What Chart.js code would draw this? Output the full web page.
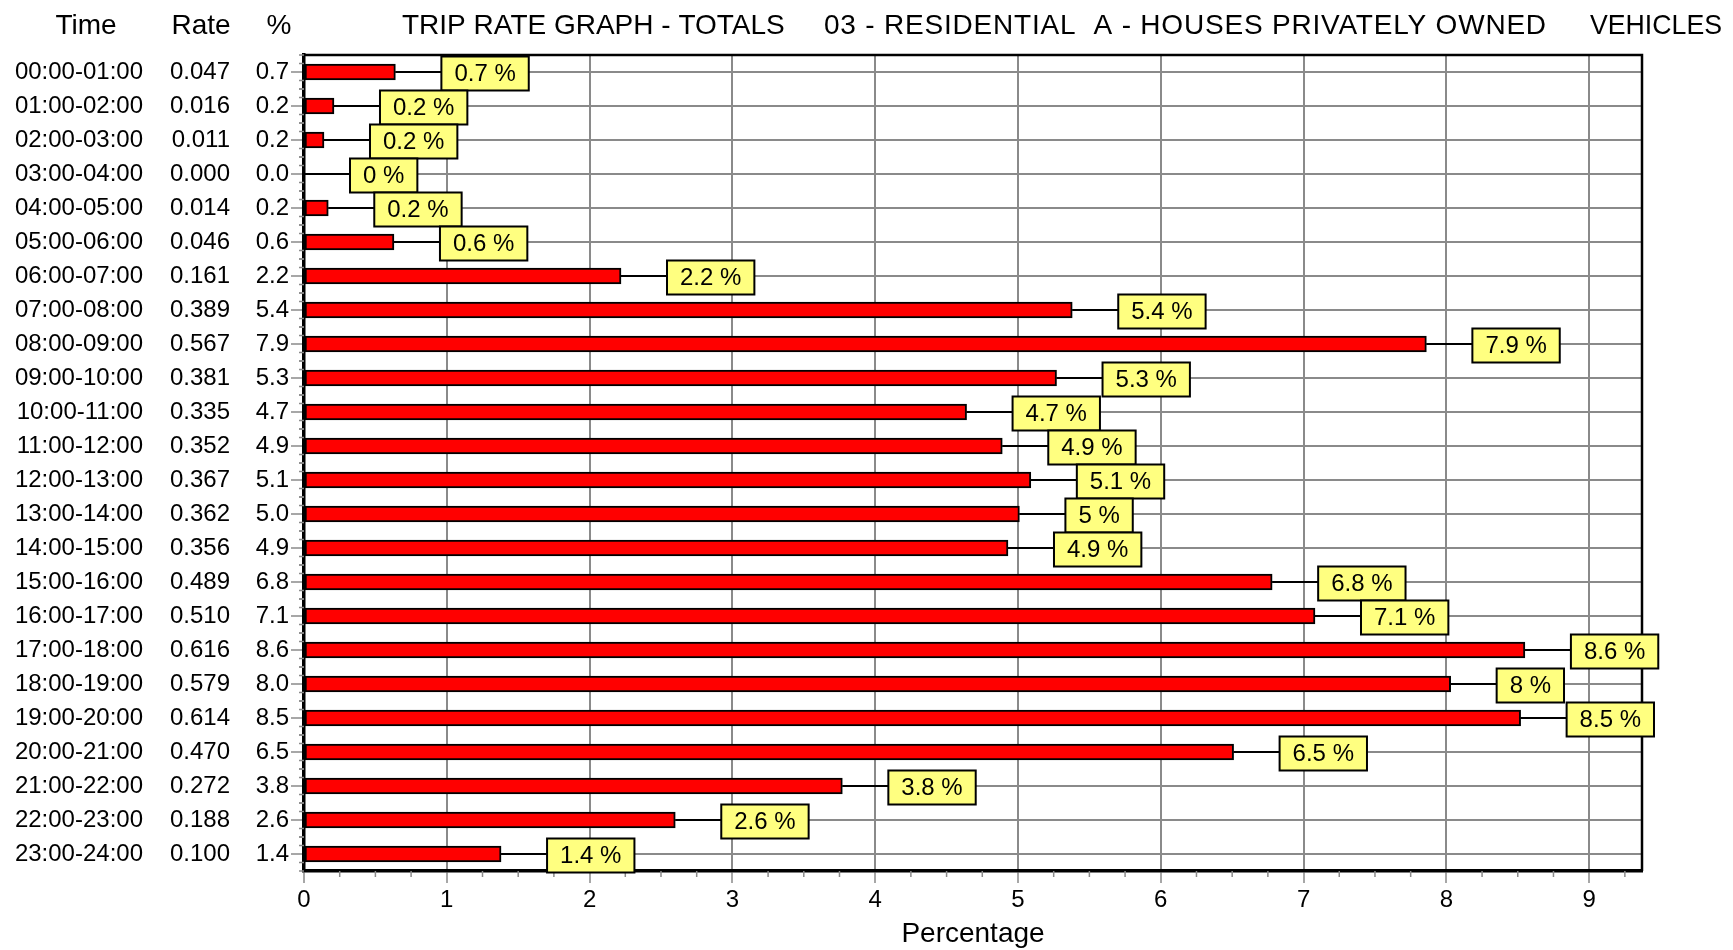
<!DOCTYPE html>
<html>
<head>
<meta charset="utf-8">
<title>Trip rate graph</title>
<script src="https://cdn.jsdelivr.net/npm/chart.js@4.4.1/dist/chart.umd.min.js"></script>
<style>
  html, body { margin: 0; padding: 0; background: #fff; }
  #wrap { position: relative; width: 1733px; height: 950px; }
</style>
</head>
<body>
<div id="wrap"><canvas id="tripChart"></canvas></div>
<script>
// hourly periods
var times = ['00:00-01:00', '01:00-02:00', '02:00-03:00', '03:00-04:00', '04:00-05:00', '05:00-06:00',
    '06:00-07:00', '07:00-08:00', '08:00-09:00', '09:00-10:00', '10:00-11:00', '11:00-12:00',
    '12:00-13:00', '13:00-14:00', '14:00-15:00', '15:00-16:00', '16:00-17:00', '17:00-18:00',
    '18:00-19:00', '19:00-20:00', '20:00-21:00', '21:00-22:00', '22:00-23:00', '23:00-24:00'];

// trip rate per period
var rates = [0.047, 0.016, 0.011, 0.000, 0.014, 0.046, 0.161, 0.389, 0.567, 0.381, 0.335, 0.352,
    0.367, 0.362, 0.356, 0.489, 0.510, 0.616, 0.579, 0.614, 0.470, 0.272, 0.188, 0.100];

// percentage as printed in the table and the labels
var pcts = [0.7, 0.2, 0.2, 0.0, 0.2, 0.6, 2.2, 5.4, 7.9, 5.3, 4.7, 4.9,
    5.1, 5.0, 4.9, 6.8, 7.1, 8.6, 8.0, 8.5, 6.5, 3.8, 2.6, 1.4];

// bar lengths (unrounded percentage)
var barLengths = [0.64, 0.21, 0.14, 0, 0.17, 0.63, 2.22, 5.38, 7.86, 5.27, 4.64, 4.89,
    5.09, 5.01, 4.93, 6.78, 7.08, 8.55, 8.03, 8.52, 6.51, 3.77, 2.60, 1.38];

var xTicks = [0, 1, 2, 3, 4, 5, 6, 7, 8, 9];

var FONT = 'Liberation Sans, Arial, Helvetica, sans-serif';
var GRID = '#8a8a8a';

Chart.defaults.font.family = FONT;
Chart.defaults.color = '#000';

// extra drawing: minor ticks, frame, value boxes, header line
var decorations = {
    id: 'decorations',
    beforeDatasetsDraw: function (chart) {
        var ctx = chart.ctx;
        var area = chart.chartArea;
        var xs = chart.scales.x;
        var ys = chart.scales.y;
        ctx.save();
        ctx.strokeStyle = GRID;
        ctx.lineWidth = 1.5;
        // minor ticks on x
        for (var v = 0.25; v < xs.max; v += 0.25) {
            if (Math.abs(v - Math.round(v)) < 0.01) continue;
            var px = xs.getPixelForValue(v);
            ctx.beginPath();
            ctx.moveTo(px, area.bottom);
            ctx.lineTo(px, area.bottom + 6);
            ctx.stroke();
        }
        // minor ticks on y
        var step = ys.getPixelForValue(1) - ys.getPixelForValue(0);
        for (var i = 0; i < times.length; i++) {
            var cy = ys.getPixelForValue(i);
            [-0.5, -0.25, 0.25, 0.5].forEach(function (k) {
                var py = cy + k * step;
                ctx.beginPath();
                ctx.moveTo(area.left - 5, py);
                ctx.lineTo(area.left, py);
                ctx.stroke();
            });
        }
        // frame top and right
        ctx.strokeStyle = '#000';
        ctx.lineWidth = 2.5;
        ctx.beginPath();
        ctx.moveTo(area.left, area.top);
        ctx.lineTo(area.right, area.top);
        ctx.lineTo(area.right, area.bottom);
        ctx.stroke();
        ctx.restore();
    },
    afterDatasetsDraw: function (chart) {
        var ctx = chart.ctx;
        var bars = chart.getDatasetMeta(0).data;
        ctx.save();
        ctx.font = '24px ' + FONT;
        ctx.textAlign = 'center';
        ctx.textBaseline = 'middle';
        bars.forEach(function (bar, i) {
            var txt = Number(pcts[i]) + ' %';
            var left = bar.x + 46;
            var w = ctx.measureText(txt).width + 26;
            var h = 34;
            var top = bar.y - 15.5;
            ctx.strokeStyle = '#000';
            ctx.lineWidth = 2;
            ctx.beginPath();
            ctx.moveTo(bar.x, bar.y);
            ctx.lineTo(left, bar.y);
            ctx.stroke();
            ctx.fillStyle = '#ffff80';
            ctx.fillRect(left, top, w, h);
            ctx.strokeRect(left, top, w, h);
            ctx.fillStyle = '#000';
            ctx.fillText(txt, left + w / 2, top + h / 2 + 1);
        });
        ctx.restore();
    },
    afterDraw: function (chart) {
        var ctx = chart.ctx;
        ctx.save();
        ctx.font = '28px ' + FONT;
        ctx.fillStyle = '#000';
        ctx.textBaseline = 'alphabetic';
        ctx.textAlign = 'center';
        ctx.fillText('Time', 86, 34);
        ctx.fillText('Rate', 201, 34);
        ctx.fillText('%', 279, 34);
        ctx.textAlign = 'left';
        ctx.fillText('TRIP RATE GRAPH - TOTALS', 402, 34, 392);
        ctx.letterSpacing = '0.8px';
        ctx.fillText('03 - RESIDENTIAL  A - HOUSES PRIVATELY OWNED', 824, 34);
        ctx.letterSpacing = '0px';
        ctx.fillText('VEHICLES', 1590, 34, 132);
        ctx.restore();
    }
};

var ctx = document.getElementById('tripChart').getContext('2d');

var tripChart = new Chart(ctx, {
    type: 'bar',
    data: {
        labels: times,
        datasets: [{
            label: 'Percentage',
            data: barLengths,
            backgroundColor: '#ff0000',
            borderColor: '#000',
            borderWidth: 2,
            borderSkipped: false,
            barThickness: 16,
            yAxisID: 'y'
        }]
    },
    options: {
        indexAxis: 'y',
        responsive: true,
        maintainAspectRatio: false,
        animation: false,
        layout: { padding: { left: 0, top: 55, right: 91, bottom: 0 } },
        plugins: {
            legend: { display: false },
            tooltip: { enabled: false },
            title: { display: false }
        },
        scales: {
            x: {
                type: 'linear',
                position: 'bottom',
                min: 0,
                max: 9.37,
                afterBuildTicks: function (scale) {
                    scale.ticks = xTicks.map(function (v) { return { value: v }; });
                },
                afterFit: function (scale) { scale.height = 79; },
                grid: { color: GRID, lineWidth: 2, tickLength: 12, tickColor: GRID, tickWidth: 1.5 },
                border: { color: '#000', width: 3.5 },
                ticks: { font: { size: 24 }, padding: 3, maxRotation: 0 },
                title: { display: true, text: 'Percentage', font: { size: 28, lineHeight: 1.1 }, padding: 0 }
            },
            y: {
                type: 'category',
                position: 'left',
                weight: 0,
                offset: true,
                afterFit: function (scale) { scale.width = 74; },
                grid: { offset: false, color: GRID, lineWidth: 2, tickLength: 13, tickColor: GRID, tickWidth: 1.5 },
                border: { color: '#000', width: 3.5 },
                ticks: {
                    autoSkip: false,
                    padding: 2,
                    font: { size: 24 },
                    callback: function (v, i) { return pcts[i].toFixed(1); }
                }
            },
            yRate: {
                type: 'category',
                position: 'left',
                weight: 1,
                offset: true,
                labels: rates.map(function (r) { return r.toFixed(3); }),
                afterFit: function (scale) { scale.width = 87; },
                grid: { display: false, drawTicks: false },
                border: { display: false },
                ticks: { autoSkip: false, padding: 0, font: { size: 24 } }
            },
            yTime: {
                type: 'category',
                position: 'left',
                weight: 2,
                offset: true,
                labels: times,
                afterFit: function (scale) { scale.width = 143; },
                grid: { display: false, drawTicks: false },
                border: { display: false },
                ticks: { autoSkip: false, padding: 0, font: { size: 24 } }
            }
        }
    },
    plugins: [decorations]
});
</script>
</body>
</html>
